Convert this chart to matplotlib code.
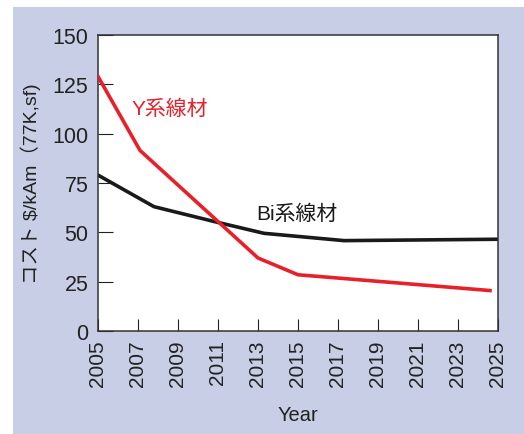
import matplotlib.pyplot as plt
from matplotlib.patches import Rectangle

# Cost outlook for superconducting wires
y_years = [2005, 2007.1, 2013, 2015, 2024.6]
y_cost = [129, 91.5, 37, 28.5, 20.5]

bi_years = [2005, 2007.8, 2010.8, 2013.3, 2017.3, 2025]
bi_cost = [79, 63, 55.5, 49.5, 45.8, 46.5]

x_ticks = list(range(2005, 2026, 2))
y_ticks = [0, 25, 50, 75, 100, 125, 150]

BG = "#c9cee7"
RED = "#e8202a"
FONT = ["Liberation Sans", "Noto Sans CJK JP", "DejaVu Sans"]

plt.rcParams["font.family"] = FONT

fig = plt.figure(figsize=(5.24, 4.35), dpi=100)
fig.patch.set_facecolor("white")
fig.patches.append(Rectangle((13 / 524, 0), 1, 1 - 8 / 435, transform=fig.transFigure,
                             facecolor=BG, edgecolor="none", zorder=-10))

ax = fig.add_axes([98 / 524, 1 - 332 / 435, 400 / 524, 296 / 435])
ax.set_facecolor("white")

ax.plot(y_years, y_cost, color=RED, linewidth=2.6, solid_joinstyle="round", zorder=3)
ax.plot(bi_years, bi_cost, color="#1a1a1a", linewidth=2.6, solid_joinstyle="round", zorder=2)

ax.text(2006.7, 113, "Y系線材", color=RED, fontsize=15, va="center", ha="left")
ax.text(2012.9, 59.5, "Bi系線材", color="#1a1a1a", fontsize=15, va="center", ha="left")

ax.set_xlim(2005, 2025)
ax.set_ylim(0, 150)
ax.set_xticks(x_ticks)
ax.set_yticks(y_ticks)
ax.tick_params(axis="x", direction="in", length=9, width=0.8, labelsize=15,
               labelrotation=90, pad=6, colors="#222222")
ax.tick_params(axis="y", direction="in", length=11, width=0.8, labelsize=15.5,
               pad=7, colors="#222222")
for s in ax.spines.values():
    s.set_linewidth(1.1)
    s.set_color("#333333")

ax.set_xlabel("Year", fontsize=14.5, color="#222222", labelpad=14)
ax.set_ylabel("コスト $/kAm（77K,sf)", fontsize=14, color="#222222", labelpad=8)

fig.savefig("out.png", dpi=100)
